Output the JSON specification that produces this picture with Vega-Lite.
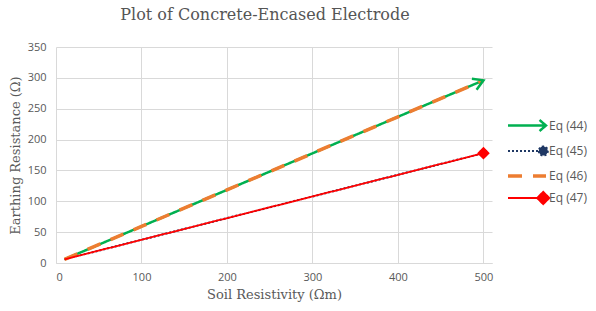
{
  "$schema": "https://vega.github.io/schema/vega-lite/v6.json",
  "autosize": "none",
  "width": 436,
  "height": 216,
  "padding": {"left": 56, "top": 47, "right": 104, "bottom": 48},
  "background": "white",
  "title": {
    "text": "Plot of Concrete-Encased Electrode",
    "font": "DejaVu Serif",
    "fontSize": 16,
    "fontWeight": "normal",
    "color": "#555555",
    "anchor": "middle",
    "offset": 18,
    "dx": -9
  },
  "config": {
    "view": {"stroke": null},
    "axis": {
      "gridColor": "#D9D9D9",
      "gridWidth": 1,
      "ticks": false,
      "labelFont": "Open Sans",
      "labelFontSize": 11,
      "labelColor": "#595959",
      "titleFont": "DejaVu Serif",
      "titleFontSize": 13,
      "titleFontWeight": "normal",
      "titleColor": "#595959"
    }
  },
  "data": {
    "values": [
      {"series": "Eq (44)", "rho": 10, "R": 6},
      {"series": "Eq (44)", "rho": 100, "R": 59.3},
      {"series": "Eq (44)", "rho": 200, "R": 118.5},
      {"series": "Eq (44)", "rho": 300, "R": 177.7},
      {"series": "Eq (44)", "rho": 400, "R": 236.9},
      {"series": "Eq (44)", "rho": 500, "R": 296},
      {"series": "Eq (45)", "rho": 10, "R": 6},
      {"series": "Eq (45)", "rho": 100, "R": 37.6},
      {"series": "Eq (45)", "rho": 200, "R": 72.7},
      {"series": "Eq (45)", "rho": 300, "R": 107.8},
      {"series": "Eq (45)", "rho": 400, "R": 142.9},
      {"series": "Eq (45)", "rho": 500, "R": 178},
      {"series": "Eq (46)", "rho": 10, "R": 6},
      {"series": "Eq (46)", "rho": 100, "R": 59.3},
      {"series": "Eq (46)", "rho": 200, "R": 118.5},
      {"series": "Eq (46)", "rho": 300, "R": 177.7},
      {"series": "Eq (46)", "rho": 400, "R": 236.9},
      {"series": "Eq (46)", "rho": 500, "R": 296},
      {"series": "Eq (47)", "rho": 10, "R": 6},
      {"series": "Eq (47)", "rho": 100, "R": 37.6},
      {"series": "Eq (47)", "rho": 200, "R": 72.7},
      {"series": "Eq (47)", "rho": 300, "R": 107.8},
      {"series": "Eq (47)", "rho": 400, "R": 142.9},
      {"series": "Eq (47)", "rho": 500, "R": 178}
    ]
  },
  "encoding": {
    "x": {
      "field": "rho", "type": "quantitative",
      "scale": {"domain": [0, 510], "nice": false},
      "axis": {"values": [0, 100, 200, 300, 400, 500], "title": "Soil Resistivity (Ωm)", "domainColor": "#D9D9D9", "labelPadding": 8, "titlePadding": 6}
    },
    "y": {
      "field": "R", "type": "quantitative",
      "scale": {"domain": [0, 350], "nice": false},
      "axis": {"values": [0, 50, 100, 150, 200, 250, 300, 350], "title": "Earthing Resistance (Ω)", "domain": false, "labelPadding": 10, "titlePadding": 5}
    }
  },
  "layer": [
    {
      "mark": {"type": "line"},
      "encoding": {
        "color": {
          "field": "series", "type": "nominal",
          "scale": {"domain": ["Eq (44)", "Eq (45)", "Eq (46)", "Eq (47)"], "range": ["#00B050", "#1F3864", "#ED7D31", "#FF0000"]},
          "legend": {
            "orient": "none",
            "legendX": 468,
            "legendY": 67,
            "title": null,
            "symbolSize": 400,
            "rowPadding": 4,
            "labelFont": "Open Sans",
            "labelFontSize": 12,
            "labelColor": "#595959",
            "labelOffset": 1,
            "padding": 0,
            "encode": {
              "symbols": {
                "update": {
                  "shape": {"signal": "datum.value === 'Eq (44)' ? 'M-2.8,0 L0.95,0 M0.35,-0.55 L1,0 L0.35,0.55' : datum.value === 'Eq (45)' ? 'M-2.8,0 L0.3,0 M0.28,0 A0.45,0.45 0 1,0 1.18,0 A0.45,0.45 0 1,0 0.28,0 Z' : datum.value === 'Eq (46)' ? 'M-2.8,0 L1,0' : 'M-2.8,0 L0.2,0 M0.1,0 L0.72,-0.62 L1.34,0 L0.72,0.62 Z'"},
                  "fill": {"signal": "datum.value === 'Eq (45)' ? '#1F3864' : datum.value === 'Eq (47)' ? '#FF0000' : 'transparent'"},
                  "strokeDash": {"signal": "datum.value === 'Eq (45)' ? [1.5, 2] : datum.value === 'Eq (46)' ? [13, 11] : [1, 0]"},
                  "strokeWidth": {"signal": "datum.value === 'Eq (46)' ? 4 : datum.value === 'Eq (45)' ? 1.6 : 2"}
                }
              }
            }
          }
        },
        "strokeDash": {
          "field": "series", "type": "nominal",
          "scale": {"domain": ["Eq (44)", "Eq (45)", "Eq (46)", "Eq (47)"], "range": [[1, 0], [2, 2], [14, 11], [1, 0]]},
          "legend": null
        },
        "strokeWidth": {
          "field": "series", "type": "nominal",
          "scale": {"type": "ordinal", "domain": ["Eq (44)", "Eq (45)", "Eq (46)", "Eq (47)"], "range": [2.5, 2, 3.5, 1.8]},
          "legend": null
        }
      }
    },
    {
      "transform": [{"filter": "datum.series === 'Eq (44)' && datum.rho === 500"}],
      "mark": {"type": "point", "shape": "M-1,-0.6 L0,0 L-1,0.6", "filled": false, "size": 400, "angle": -23, "color": "#00B050", "strokeWidth": 2.5, "opacity": 1}
    },
    {
      "transform": [{"filter": "datum.series === 'Eq (45)' && datum.rho === 500"}],
      "mark": {"type": "point", "shape": "circle", "filled": true, "size": 70, "color": "#1F3864", "opacity": 1}
    },
    {
      "transform": [{"filter": "datum.series === 'Eq (47)' && datum.rho === 500"}],
      "mark": {"type": "point", "shape": "diamond", "filled": true, "size": 160, "color": "#FF0000", "opacity": 1}
    }
  ]
}
